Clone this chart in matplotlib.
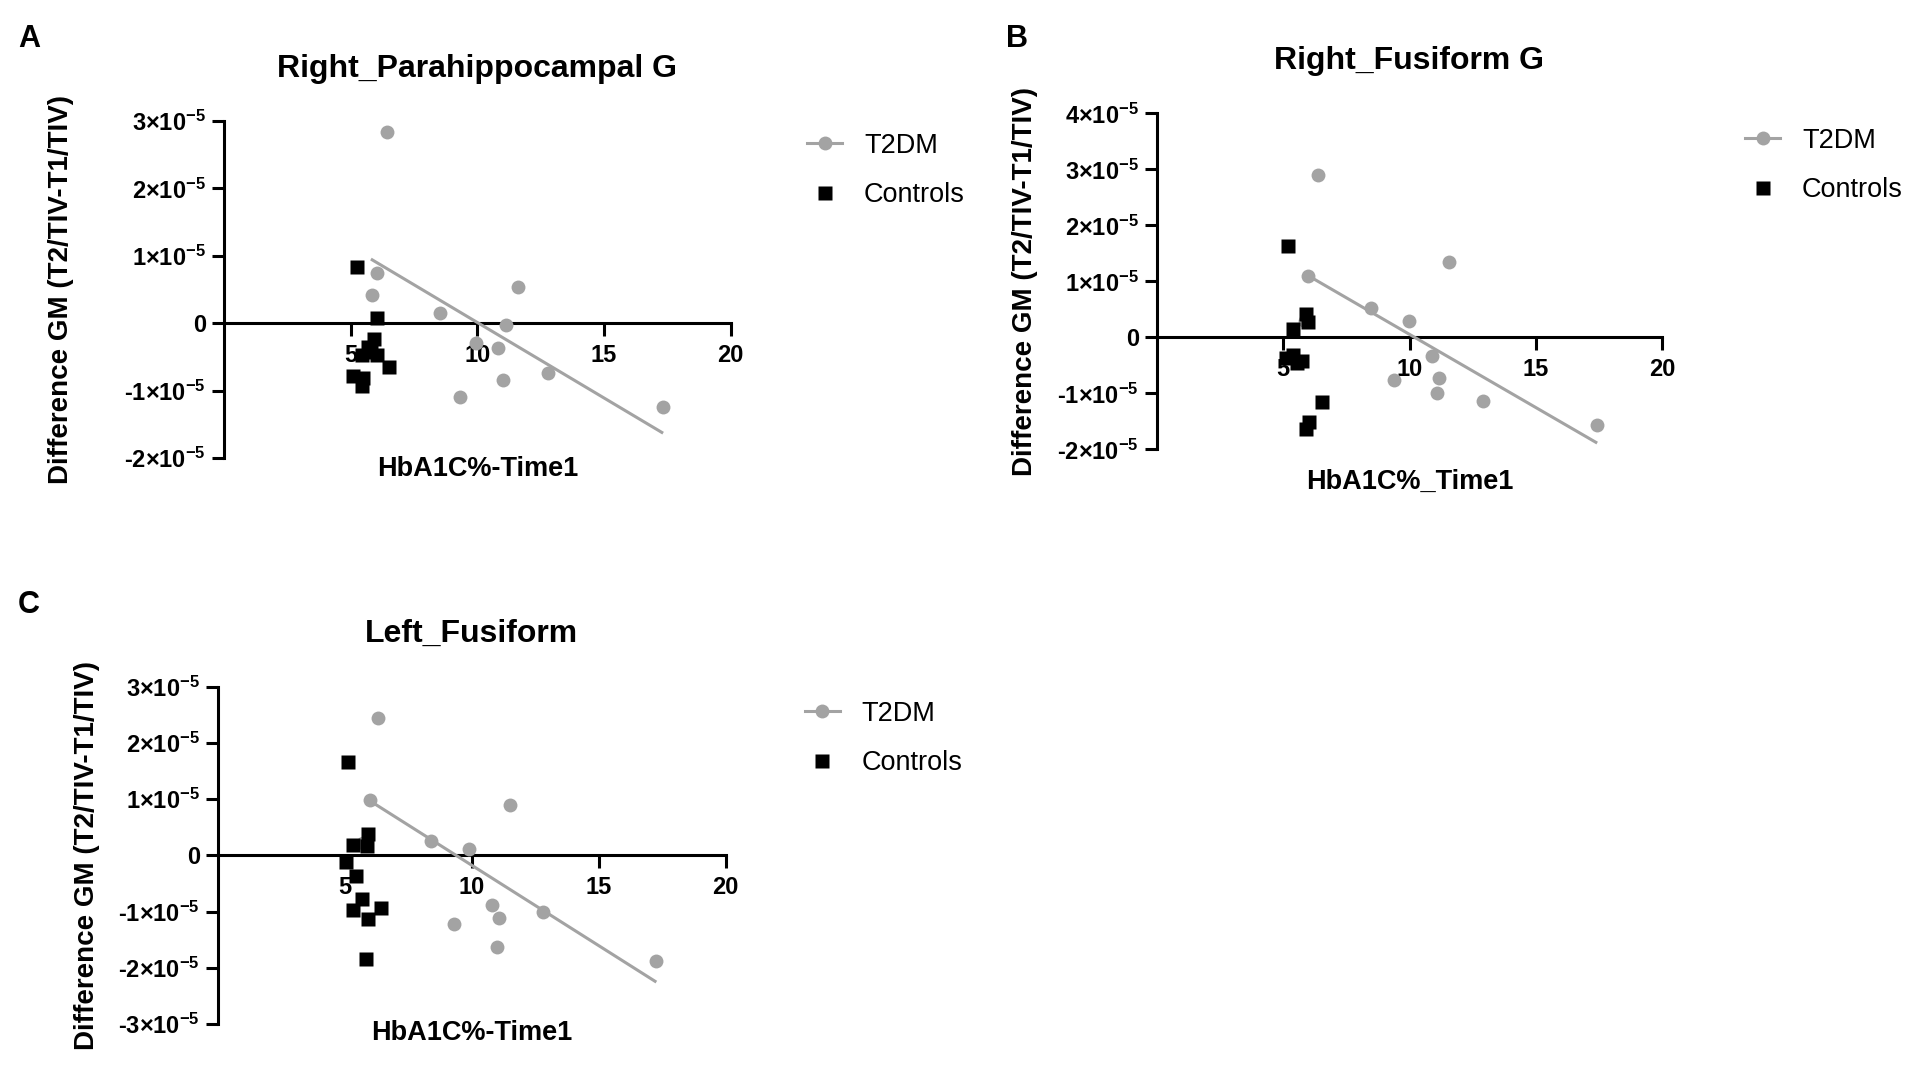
import numpy as np
import matplotlib
matplotlib.use("Agg")
import matplotlib.pyplot as plt
from matplotlib.lines import Line2D
from matplotlib.ticker import FuncFormatter

plt.rcParams['font.family'] = ['Liberation Sans', 'DejaVu Sans']
plt.rcParams['mathtext.fontset'] = 'custom'
plt.rcParams['mathtext.rm'] = 'Liberation Sans:bold'
plt.rcParams['mathtext.bf'] = 'Liberation Sans:bold'
plt.rcParams['mathtext.it'] = 'Liberation Sans:bold'
plt.rcParams['mathtext.default'] = 'rm'

# ---------------- data ----------------
# Panel A: Right_Parahippocampal G
a_t2dm_x = [6.42, 6.03, 5.83, 8.52, 11.60, 11.12, 9.94, 10.83, 11.03, 12.80, 9.33, 17.32]
a_t2dm_y = [2.84e-5, 0.74e-5, 0.42e-5, 0.15e-5, 0.53e-5, -0.02e-5, -0.30e-5, -0.37e-5,
            -0.84e-5, -0.74e-5, -1.10e-5, -1.24e-5]
a_ctrl_x = [5.24, 6.03, 5.92, 5.70, 5.44, 6.03, 5.80, 6.51, 5.10, 5.50, 5.44]
a_ctrl_y = [0.83e-5, 0.07e-5, -0.24e-5, -0.35e-5, -0.47e-5, -0.47e-5, -0.42e-5, -0.65e-5,
            -0.79e-5, -0.82e-5, -0.93e-5]
a_fit_x = [5.85, 17.28]
a_fit_y = [0.94e-5, -1.62e-5]

# Panel B: Right_Fusiform G
b_t2dm_x = [6.37, 5.99, 11.58, 8.49, 9.98, 5.86, 10.89, 11.16, 9.39, 11.08, 12.90, 17.43]
b_t2dm_y = [2.89e-5, 1.10e-5, 1.35e-5, 0.52e-5, 0.30e-5, 0.29e-5, -0.33e-5, -0.73e-5,
            -0.77e-5, -0.99e-5, -1.14e-5, -1.57e-5]
b_ctrl_x = [5.20, 5.92, 5.99, 5.39, 5.09, 5.39, 5.73, 5.53, 6.52, 6.03, 5.92]
b_ctrl_y = [1.63e-5, 0.41e-5, 0.28e-5, 0.14e-5, -0.37e-5, -0.32e-5, -0.42e-5, -0.46e-5,
            -1.15e-5, -1.52e-5, -1.64e-5]
b_fit_x = [5.99, 17.38]
b_fit_y = [1.10e-5, -1.875e-5]

# Panel C: Left_Fusiform
c_t2dm_x = [6.31, 5.98, 11.52, 8.41, 9.90, 5.73, 10.81, 11.09, 9.29, 12.81, 10.98, 17.27]
c_t2dm_y = [2.45e-5, 0.99e-5, 0.90e-5, 0.25e-5, 0.12e-5, 0.22e-5, -0.88e-5, -1.11e-5,
            -1.23e-5, -1.01e-5, -1.63e-5, -1.88e-5]
c_ctrl_x = [5.13, 5.92, 5.33, 5.86, 5.03, 5.43, 5.66, 5.33, 6.42, 5.92, 5.83]
c_ctrl_y = [1.66e-5, 0.385e-5, 0.19e-5, 0.17e-5, -0.12e-5, -0.36e-5, -0.77e-5, -0.98e-5,
            -0.93e-5, -1.14e-5, -1.85e-5]
c_fit_x = [5.95, 17.22]
c_fit_y = [0.98e-5, -2.24e-5]

titles = ["Right_Parahippocampal G", "Right_Fusiform G", "Left_Fusiform"]
xlabels = ["HbA1C%-Time1", "HbA1C%_Time1", "HbA1C%-Time1"]
ylabel = "Difference GM (T2/TIV-T1/TIV)"
panel_letters = ["A", "B", "C"]
legend_labels = ["T2DM", "Controls"]
x_ticks = [5, 10, 15, 20]
y_ticks_a = [-2e-5, -1e-5, 0, 1e-5, 2e-5, 3e-5]
y_ticks_b = [-2e-5, -1e-5, 0, 1e-5, 2e-5, 3e-5, 4e-5]
y_ticks_c = [-3e-5, -2e-5, -1e-5, 0, 1e-5, 2e-5, 3e-5]

# ---------------- layout (pixels) ----------------
W, H = 1910, 1068
fig = plt.figure(figsize=(W / 100, H / 100), dpi=100)

GRAY = '#a3a3a3'

panels = [
    dict(box=(224, 730.7, 121, 458), t2x=a_t2dm_x, t2y=a_t2dm_y, cx=a_ctrl_x, cy=a_ctrl_y,
         fx=a_fit_x, fy=a_fit_y, yt=y_ticks_a, xlab_off=18, ylab_off=163,
         leg=(807, 170.5), letter=(29, 47)),
    dict(box=(1157, 1662, 113.3, 449.3), t2x=b_t2dm_x, t2y=b_t2dm_y, cx=b_ctrl_x, cy=b_ctrl_y,
         fx=b_fit_x, fy=b_fit_y, yt=y_ticks_b, xlab_off=40, ylab_off=132,
         leg=(1745, 165.5), letter=(1017, 47)),
    dict(box=(218, 725.6, 686.7, 1024), t2x=c_t2dm_x, t2y=c_t2dm_y, cx=c_ctrl_x, cy=c_ctrl_y,
         fx=c_fit_x, fy=c_fit_y, yt=y_ticks_c, xlab_off=16, ylab_off=131.5,
         leg=(804.5, 738.5), letter=(29, 613)),
]


def fmt(v, pos):
    n = int(round(v / 1e-5))
    if n == 0:
        return "0"
    return f"{n}×10$^{{-5}}$"


for i, p in enumerate(panels):
    x0, x1, yt, yb = p['box']
    ax = fig.add_axes([x0 / W, 1 - yb / H, (x1 - x0) / W, (yb - yt) / H])
    ax.set_xlim(0, 20)
    ax.set_ylim(p['yt'][0], p['yt'][-1])
    for s in ['top', 'right']:
        ax.spines[s].set_visible(False)
    ax.spines['bottom'].set_position(('data', 0))
    for s in ['left', 'bottom']:
        ax.spines[s].set_linewidth(2.2)
        ax.spines[s].set_capstyle('projecting')
    ax.set_xticks(x_ticks)
    ax.set_yticks(p['yt'])
    ax.yaxis.set_major_formatter(FuncFormatter(fmt))
    ax.tick_params(axis='both', direction='out', length=9, width=2.2, labelsize=17, pad=4)
    ax.tick_params(axis='x', pad=6)
    for lab in ax.get_xticklabels() + ax.get_yticklabels():
        lab.set_fontweight('bold')
    ax.patch.set_alpha(0)

    ax.plot(p['fx'], p['fy'], color=GRAY, lw=2.2, zorder=3, clip_on=False)
    ax.plot(p['t2x'], p['t2y'], 'o', color=GRAY, ms=10, mec='none', zorder=4, clip_on=False)
    ax.plot(p['cx'], p['cy'], 's', color='black', ms=9.5, mec='none', zorder=5, clip_on=False)

    axh = yb - yt
    axw = x1 - x0
    ax.set_title(titles[i], fontsize=23, fontweight='bold', pad=32)
    ax.text(0.5, -p['xlab_off'] / axh, xlabels[i], transform=ax.transAxes, ha='center',
            va='baseline', fontsize=19.5, fontweight='bold')
    ax.text(-p['ylab_off'] / axw, 0.5, ylabel, transform=ax.transAxes, ha='center',
            va='center', rotation=90, fontsize=20, fontweight='bold')

    handles = [Line2D([], [], color=GRAY, marker='o', ms=10, mec='none', lw=2.2),
               Line2D([], [], color='black', marker='s', ms=9.5, mec='none', ls='none')]
    lx, ly = p['leg']
    ax.legend(handles, legend_labels, loc='center left', bbox_to_anchor=(lx / W, 1 - ly / H),
              bbox_transform=fig.transFigure, frameon=False, fontsize=19.5,
              handlelength=1.3, handletextpad=0.8, labelspacing=0.88, borderpad=0,
              borderaxespad=0, numpoints=1)

    fig.text(p['letter'][0] / W, 1 - p['letter'][1] / H, panel_letters[i], ha='center',
             va='baseline', fontsize=22, fontweight='bold')

fig.savefig("out.png", dpi=100, facecolor='white')
